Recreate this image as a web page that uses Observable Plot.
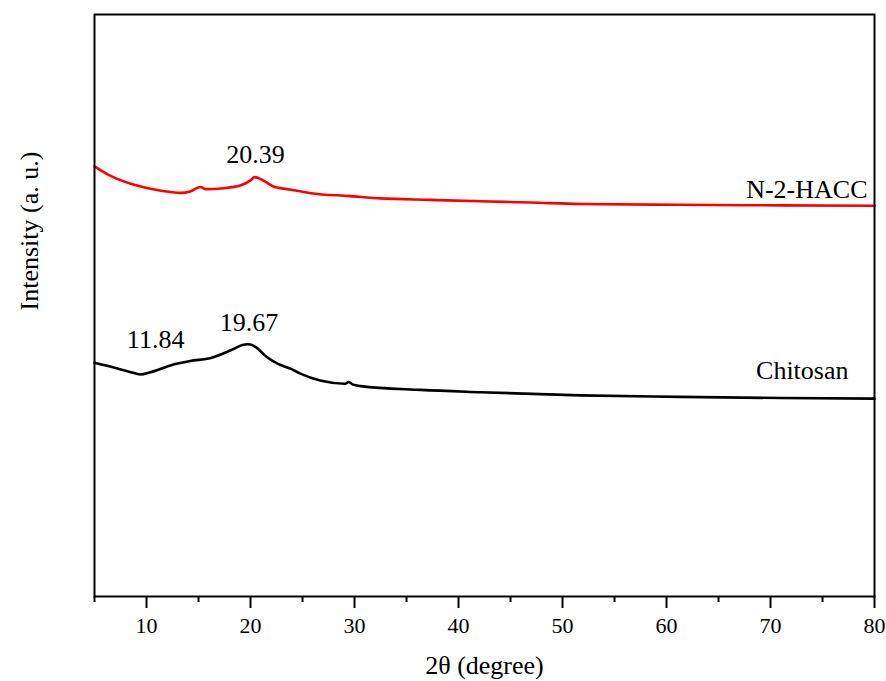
<!DOCTYPE html>
<html>
<head>
<meta charset="utf-8">
<script src="https://cdn.jsdelivr.net/npm/d3@7"></script>
<script src="https://cdn.jsdelivr.net/npm/@observablehq/plot@0.6"></script>
<style>
  body { margin: 0; background: #fff; }
  #chart svg { display: block; }
  #chart svg, #chart svg text { font-family: "Liberation Serif", "Times New Roman", Times, serif !important; }
</style>
</head>
<body>
<div id="chart"></div>
<script>
// ---- Data ----
const haccTheta = [5.0, 6.5, 8.5, 10.4, 12.3, 13.3, 14.2, 15.2, 15.7, 17.4, 19.0, 20.0, 20.39, 21.2, 22.2, 23.9, 25.8, 29.6, 32.5, 37.3, 42.1, 46.9, 51.7, 61.3, 71.0, 80.0];
const haccIntensity = [73.9, 72.3, 70.9, 70.05, 69.5, 69.35, 69.6, 70.35, 70.0, 70.15, 70.6, 71.5, 72.05, 71.5, 70.45, 69.9, 69.3, 68.8, 68.4, 68.15, 67.9, 67.7, 67.45, 67.3, 67.2, 67.15];

const chitosanTheta = [5.0, 6.5, 8.5, 9.4, 10.4, 12.3, 14.2, 16.2, 18.1, 19.3, 19.67, 20.0, 20.5, 21.6, 22.6, 23.9, 24.8, 26.7, 29.1, 29.45, 29.8, 30.6, 36.4, 42.1, 51.7, 61.3, 71.0, 80.0];
const chitosanIntensity = [40.15, 39.5, 38.55, 38.15, 38.55, 39.7, 40.45, 41.0, 42.3, 43.25, 43.35, 43.3, 42.85, 41.1, 40.0, 39.1, 38.3, 37.1, 36.55, 36.85, 36.45, 36.15, 35.5, 35.1, 34.55, 34.3, 34.1, 34.0];

const seriesNames = ["N-2-HACC", "Chitosan"];
const seriesColors = ["red", "black"];

const peakText = ["20.39", "11.84", "19.67"];
const peakTheta = [20.39, 11.84, 19.67];
const peakIntensity = [72.05, 39.5, 43.35];

const xTicksMajor = [10, 20, 30, 40, 50, 60, 70, 80];
const xTicksMinor = [5, 15, 25, 35, 45, 55, 65, 75];

const xLabel = "2θ (degree)";
const yLabel = "Intensity (a. u.)";

// ---- Build tables ----
const hacc = haccTheta.map((t, i) => ({theta: t, intensity: haccIntensity[i]}));
const chitosan = chitosanTheta.map((t, i) => ({theta: t, intensity: chitosanIntensity[i]}));
const peaks = peakText.map((s, i) => ({text: s, theta: peakTheta[i], intensity: peakIntensity[i]}));

const font = "Liberation Serif";

const chart = Plot.plot({
  width: 886,
  height: 681,
  marginTop: 14,
  marginBottom: 85,
  marginLeft: 94,
  marginRight: 12,
  style: {background: "#fff", color: "black"},
  x: {domain: [5, 80]},
  y: {domain: [0, 100]},
  marks: [
    Plot.line(hacc, {x: "theta", y: "intensity", stroke: seriesColors[0], strokeWidth: 2.6, curve: "monotone-x"}),
    Plot.line(chitosan, {x: "theta", y: "intensity", stroke: seriesColors[1], strokeWidth: 2.6, curve: "monotone-x"}),
    Plot.frame({stroke: "black", strokeWidth: 2}),
    Plot.axisX({ticks: xTicksMajor, tickSize: 12, tickPadding: 9, strokeWidth: 2, fontSize: 22, fontFamily: font, label: null, tickFormat: d => String(d)}),
    Plot.axisX({ticks: xTicksMinor, tickSize: 6, strokeWidth: 2, text: null, label: null}),
    Plot.axisY({ticks: [], label: null}),
    // peak annotations
    Plot.text([peaks[0]], {x: "theta", y: "intensity", text: "text", dx: 1, dy: -14, lineAnchor: "bottom", fontSize: 26, fontFamily: font, fill: "black"}),
    Plot.text([peaks[1]], {x: "theta", y: "intensity", text: "text", dx: -10, dy: -19, lineAnchor: "bottom", fontSize: 26, fontFamily: font, fill: "black"}),
    Plot.text([peaks[2]], {x: "theta", y: "intensity", text: "text", dx: 2, dy: -13, lineAnchor: "bottom", fontSize: 26, fontFamily: font, fill: "black"}),
    // series labels
    Plot.text([hacc[hacc.length - 1]], {x: "theta", y: "intensity", text: () => seriesNames[0], textAnchor: "end", dx: -7, dy: -8, lineAnchor: "bottom", fontSize: 26, fontFamily: font, fill: "black"}),
    Plot.text([chitosan[chitosan.length - 1]], {x: "theta", y: "intensity", text: () => seriesNames[1], textAnchor: "end", dx: -26, dy: -20, lineAnchor: "bottom", fontSize: 26, fontFamily: font, fill: "black"}),
    // axis titles
    Plot.text([xLabel], {frameAnchor: "bottom", text: d => d, dy: 77, lineAnchor: "bottom", fontSize: 26, fontFamily: font, fill: "black"}),
    Plot.text([yLabel], {frameAnchor: "left", text: d => d, rotate: -90, dx: -65, dy: 5, lineAnchor: "middle", fontSize: 26, fontFamily: font, fill: "black"})
  ]
});

document.getElementById("chart").appendChild(chart);
</script>
</body>
</html>
